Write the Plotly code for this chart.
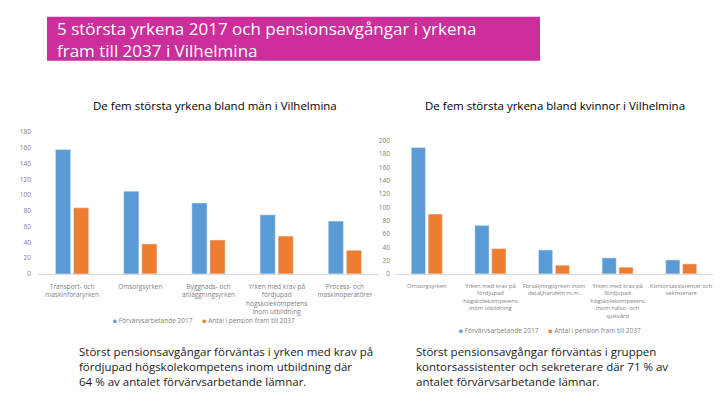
import plotly.graph_objects as go

W, H = 720, 405

title_lines = ["5 största yrkena 2017 och pensionsavgångar i yrkena", "fram till 2037 i Vilhelmina"]
left_title = "De fem största yrkena bland män i Vilhelmina"
right_title = "De fem största yrkena bland kvinnor i Vilhelmina"

series_names = ["Förvärvsarbetande 2017", "Antal i pension fram till 2037"]

men_categories = [
    "Transport- och<br>maskinföraryrken",
    "Omsorgsyrken",
    "Byggnads- och<br>anläggningsyrken",
    "Yrken med krav på<br>fördjupad<br>högskolekompetens<br>inom utbildning",
    "Process- och<br>maskinoperatörer",
]
men_employed = [158, 105, 90, 75, 67]
men_retiring = [84, 38, 43, 48, 30]

women_categories = [
    "Omsorgsyrken",
    "Yrken med krav på<br>fördjupad<br>högskolekompetens<br>inom utbildning",
    "Försäljningsyrken inom<br>detaljhandeln m.m.",
    "Yrken med krav på<br>fördjupad<br>högskolekompetens<br>inom hälso- och<br>sjukvård",
    "Kontorsassistenter och<br>sekreterare",
]
women_employed = [190, 73, 36, 24, 21]
women_retiring = [90, 38, 13, 10, 15]

men_ticks = [0, 20, 40, 60, 80, 100, 120, 140, 160, 180]
women_ticks = [0, 20, 40, 60, 80, 100, 120, 140, 160, 180, 200]

left_note = ("Störst pensionsavgångar förväntas i yrken med krav på<br>"
             "fördjupad högskolekompetens inom utbildning där<br>"
             "64 % av antalet förvärvsarbetande lämnar.")
right_note = ("Störst pensionsavgångar förväntas i gruppen<br>"
              "kontorsassistenter och sekreterare där 71 % av<br>"
              "antalet förvärvsarbetande lämnar.")

BLUE = "#5B9BD5"
ORANGE = "#ED7D31"
MAGENTA = "#CC2E9B"
FONT = "Open Sans, Noto Sans, sans-serif"


def px(x):
    return x / W


def py(y):
    return 1 - y / H


fig = go.Figure()
fig.add_bar(x=list(range(5)), y=men_employed, name=series_names[0], marker_color=BLUE,
            xaxis="x", yaxis="y", hoverinfo="y")
fig.add_bar(x=list(range(5)), y=men_retiring, name=series_names[1], marker_color=ORANGE,
            xaxis="x", yaxis="y", hoverinfo="y")
fig.add_bar(x=list(range(5)), y=women_employed, name=series_names[0], marker_color=BLUE,
            xaxis="x2", yaxis="y2", hoverinfo="y")
fig.add_bar(x=list(range(5)), y=women_retiring, name=series_names[1], marker_color=ORANGE,
            xaxis="x2", yaxis="y2", hoverinfo="y")

GREY = "#7f7f7f"
axis_common = dict(showgrid=False, zeroline=False, ticks="", tickangle=0)

fig.update_layout(
    width=W, height=H,
    margin=dict(l=0, r=0, t=0, b=0),
    paper_bgcolor="white", plot_bgcolor="white",
    font=dict(family=FONT, color="#404040"),
    showlegend=False,
    barmode="group", bargap=0.47, bargroupgap=0.16,
    xaxis=dict(domain=[px(38), px(379)], range=[-0.5, 4.5], tickvals=list(range(5)),
               ticktext=men_categories, showline=True, linecolor="#d9d9d9", linewidth=1,
               anchor="y", ticklabelstandoff=6,
               tickfont=dict(family=FONT, size=6.5, color=GREY), **axis_common),
    yaxis=dict(domain=[py(275), py(130)], range=[0, 180], tickvals=men_ticks,
               showline=False, anchor="x", ticklabelstandoff=6,
               tickfont=dict(family=FONT, size=6.5, color=GREY), **axis_common),
    xaxis2=dict(domain=[px(395), px(713)], range=[-0.5, 4.5], tickvals=list(range(5)),
                ticktext=women_categories, showline=True, linecolor="#d9d9d9", linewidth=1,
                anchor="y2", ticklabelstandoff=6,
                tickfont=dict(family=FONT, size=5.8, color=GREY), **axis_common),
    yaxis2=dict(domain=[py(275), py(139)], range=[0, 200], tickvals=women_ticks,
                showline=False, anchor="x2", ticklabelstandoff=4,
                tickfont=dict(family=FONT, size=6.5, color=GREY), **axis_common),
)


def legend_text(names):
    return (f"<span style='color:{BLUE}'>■</span> {names[0]}"
            f"      <span style='color:{ORANGE}'>■</span> {names[1]}")


fig.add_annotation(text=legend_text(series_names), xref="paper", yref="paper", x=px(204), y=py(323),
                   xanchor="center", yanchor="middle", showarrow=False,
                   font=dict(family=FONT, size=6.5, color=GREY))
fig.add_annotation(text=legend_text(series_names), xref="paper", yref="paper", x=px(550), y=py(333),
                   xanchor="center", yanchor="middle", showarrow=False,
                   font=dict(family=FONT, size=6.5, color=GREY))

fig.add_shape(type="rect", xref="paper", yref="paper", x0=px(47), x1=px(540), y0=py(57), y1=py(12),
              fillcolor=MAGENTA, line_width=0, layer="below")
fig.add_annotation(text="<br>".join(title_lines), xref="paper", yref="paper", x=px(55), y=py(35),
                   xanchor="left", yanchor="middle", align="left", showarrow=False,
                   font=dict(family=FONT, size=17, color="white"))

fig.add_annotation(text=left_title, xref="paper", yref="paper", x=px(215), y=py(103),
                   xanchor="center", yanchor="middle", showarrow=False,
                   font=dict(family=FONT, size=11.5, color="#000000"))
fig.add_annotation(text=right_title, xref="paper", yref="paper", x=px(555), y=py(103),
                   xanchor="center", yanchor="middle", showarrow=False,
                   font=dict(family=FONT, size=11.5, color="#000000"))

fig.add_annotation(text=left_note, xref="paper", yref="paper", x=px(77), y=py(370),
                   xanchor="left", yanchor="middle", align="left", showarrow=False,
                   font=dict(family=FONT, size=11.5, color="#1a1a1a"))
fig.add_annotation(text=right_note, xref="paper", yref="paper", x=px(414), y=py(370),
                   xanchor="left", yanchor="middle", align="left", showarrow=False,
                   font=dict(family=FONT, size=11.5, color="#1a1a1a"))

fig.write_html("out.html")
